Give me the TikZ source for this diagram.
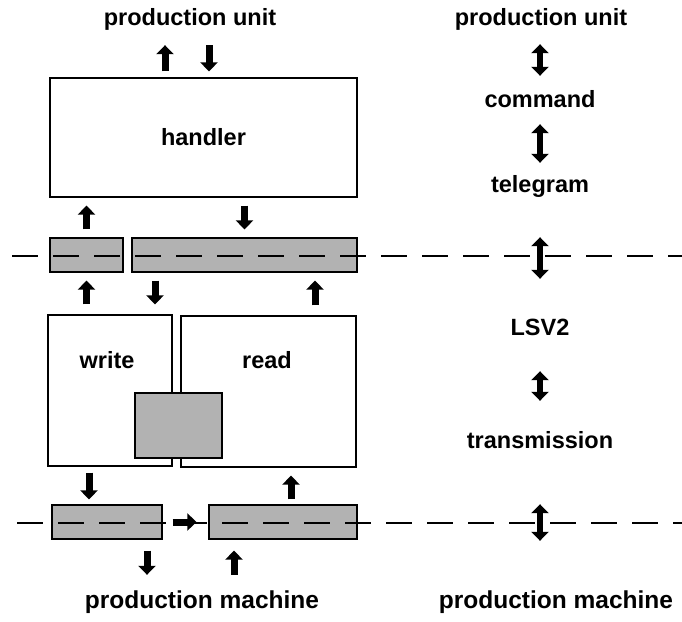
\documentclass[tikz,border=0pt]{standalone}
\usepackage{fontspec}
\setmainfont{Liberation Sans}
\usepackage{tikz}
\usetikzlibrary{arrows.meta}
\tikzset{
	%	box/.style={rectangle,draw,thick},
	box/.style={rectangle,draw,line width=1.2pt,fill=white,inner sep=0pt},
	shade/.style={rectangle,draw,line width=1.2pt,fill=black!30,inner sep=0pt},
	lbl/.style={inner sep=0pt,font=\bfseries\fontsize{23.5}{28}\selectfont,text height=17pt,text depth=5pt},
	blk/.style={line width=7pt,-{Triangle[width=17pt,length=9pt]}},
	dblk/.style={line width=6.5pt,{Triangle[width=17pt,length=9pt]}-{Triangle[width=17pt,length=9pt]}},
	sep/.style={line width=1.2pt,dash pattern=on 26pt off 15pt}
}
\begin{document}
\begin{tikzpicture}[x=1pt,y=-1pt]
	\useasboundingbox (0,0) rectangle (682,621);

	% left column
	\node[lbl,anchor=base] (pu) at (190,25) {production unit};
	\node[box,minimum width=307pt,minimum height=119pt,font=\bfseries\fontsize{23.5}{28}\selectfont] (handler) at (203.5,137.5) {handler};
	\node[shade,minimum width=73pt,minimum height=34pt] (bufA) at (86.5,255) {};
	\node[shade,minimum width=225pt,minimum height=34pt] (bufB) at (244.5,255) {};
	\node[box,minimum width=124pt,minimum height=151pt] (write) at (110,390.5) {};
	\node[box,minimum width=175pt,minimum height=151pt] (read) at (268.5,391.5) {};
	\node[shade,minimum width=87pt,minimum height=65pt] (gbox) at (178.5,425.5) {};
	\node[lbl,anchor=base] (wlab) at (107,368) {write};
	\node[lbl,anchor=base] (rlab) at (267,368) {read};
	\node[shade,minimum width=110pt,minimum height=34pt] (bufL) at (107,522) {};
	\node[shade,minimum width=148pt,minimum height=34pt] (bufR) at (283,522) {};
	\node[lbl,anchor=base,font=\bfseries\fontsize{24.5}{28}\selectfont] (pm) at (202,608) {production machine};

	% right column
	\node[lbl,anchor=base] (pu2) at (541,25) {production unit};
	\node[lbl,anchor=base] (cmd) at (540,107) {command};
	\node[lbl,anchor=base] (tel) at (540,192) {telegram};
	\node[lbl,anchor=base] (lsv) at (540,335) {LSV2};
	\node[lbl,anchor=base] (trans) at (540,448) {transmission};
	\node[lbl,anchor=base,font=\bfseries\fontsize{24.5}{28}\selectfont] (pm2) at (556,608) {production machine};

	% layer boundaries
	\draw[sep] (12,256) -- (682,256);
	\draw[sep] (17,523) -- (682,523);

	\draw[blk,shorten <=6pt,shorten >=15pt] ([xshift=-38.5pt]handler.north) -- ([xshift=-25pt]pu.south);
	\draw[blk,shorten <=15pt,shorten >=6pt] ([xshift=19pt]pu.south) -- ([xshift=5.5pt]handler.north);
	\draw[blk,shorten <=8pt,shorten >=8pt] (bufA.north) -- (bufA.north |- handler.south);
	\draw[blk,shorten <=8pt,shorten >=8pt] (handler.south -| bufB.north) -- (bufB.north);
	\draw[blk,shorten <=10pt,shorten >=8pt] (write.north -| bufA.south) -- (bufA.south);
	\draw[blk,shorten <=8pt,shorten >=10pt] ([xshift=-89.5pt]bufB.south) -- ([xshift=45pt]write.north);
	\draw[blk,shorten <=10pt,shorten >=8pt] ([xshift=46.5pt]read.north) -- ([xshift=70.5pt]bufB.south);
	\draw[blk,shorten <=6pt,shorten >=5pt] ([xshift=-21pt]write.south) -- ([xshift=-18pt]bufL.north);
	\draw[blk,shorten <=5pt,shorten >=8pt] ([xshift=8pt]bufR.north) -- ([xshift=22.5pt]read.south);
	\draw[blk,shorten <=10pt,shorten >=12pt] (bufL.east) -- (bufR.west);
	\draw[blk,shorten <=11pt,shorten >=16pt] ([xshift=40pt]bufL.south) -- ([xshift=-55pt]pm.north);
	\draw[blk,shorten <=16pt,shorten >=11pt] ([xshift=32pt]pm.north) -- ([xshift=-49pt]bufR.south);

	\draw[dblk,shorten <=14pt,shorten >=14pt] (pu2.south -| cmd.north) -- (cmd.north);
	\draw[dblk,shorten <=12pt,shorten >=12pt] (cmd.south) -- (tel.north);
	\draw[dblk,shorten <=40pt,shorten >=39pt] (tel.south) -- (lsv.north);
	\draw[dblk,shorten <=31pt,shorten >=30pt] (lsv.south) -- (trans.north);
	\draw[dblk,shorten <=51pt,shorten >=50pt] (trans.south) -- (trans.south |- pm2.north);
\end{tikzpicture}
\end{document}
